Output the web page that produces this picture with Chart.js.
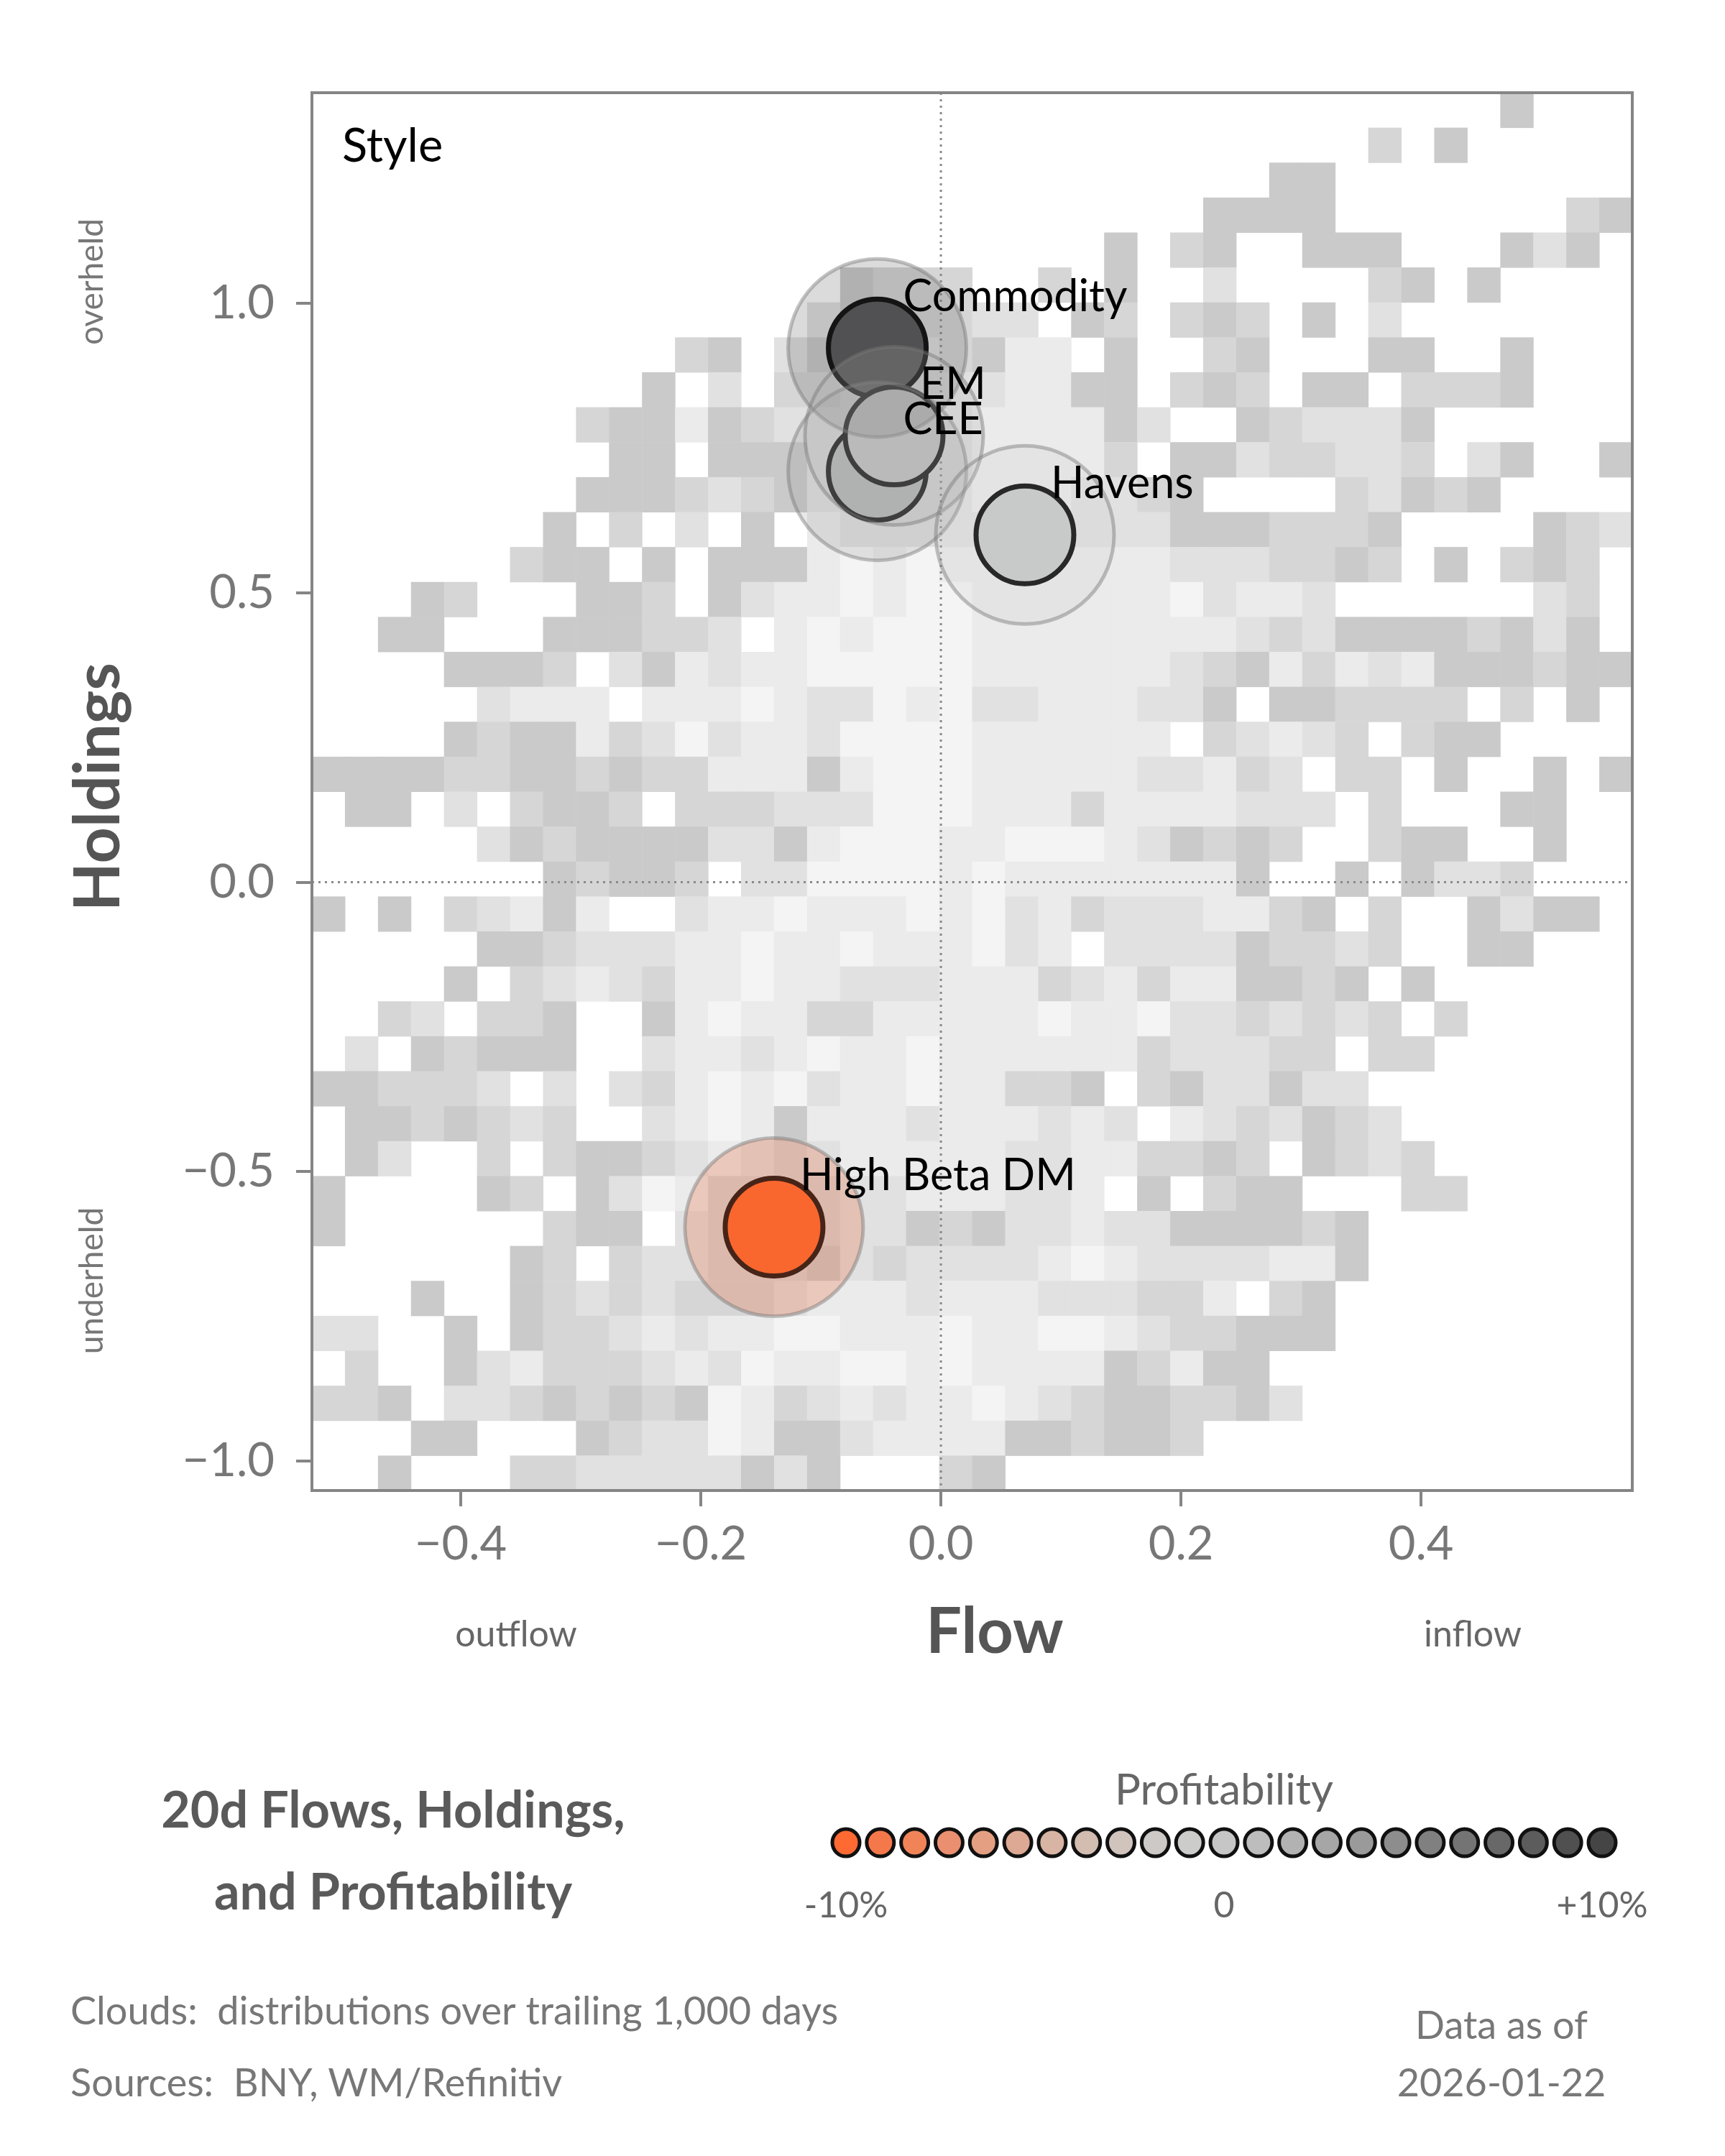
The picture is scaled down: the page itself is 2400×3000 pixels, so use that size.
<!DOCTYPE html>
<html>
<head>
<meta charset="utf-8">
<style>
  html, body { margin: 0; padding: 0; background: #fff; }
  #wrap { width: 2400px; height: 3000px; }
</style>
<script src="https://cdn.jsdelivr.net/npm/chart.js@4.4.1/dist/chart.umd.min.js"></script>
</head>
<body>
<div id="wrap"><canvas id="chart" width="2400" height="3000"></canvas></div>
<script>
// axis ranges and ticks
const xRange = [-0.524, 0.576];
const yRange = [-1.051, 1.364];
const xTicks = [-0.4, -0.2, 0.0, 0.2, 0.4];
const yTicks = [-1.0, -0.5, 0.0, 0.5, 1.0];

// style bubbles
const names = ['Commodity', 'CEE', 'EM', 'Havens', 'High Beta DM'];
const flows = [-0.053, -0.053, -0.039, 0.07, -0.139];
const holdings = [0.923, 0.71, 0.771, 0.60, -0.596];
const coreColors = ['#4f4f51', '#bcbebd', '#c9cbca', '#c9cbca', '#ff6121'];
const haloColors = ['rgba(90,90,92,0.22)', 'rgba(150,150,150,0.22)', 'rgba(170,170,170,0.22)', 'rgba(200,200,200,0.2)', 'rgba(235,120,80,0.3)'];

// cloud: 40 rows (top to bottom) x 40 columns, shade level per cell ('.' = empty)
const cloudRows = [
  '....................' + '................1...',
  '....................' + '............2.1.....',
  '....................' + '.........11.........',
  '....................' + '.......1111.......21',
  '....................' + '....1.21..111...131.',
  '................1222' + '..2.1..3....21.1....',
  '...............31122' + '33.12.212.1.3.......',
  '...........21.311332' + '144.1..21...11..1...',
  '..........1.3.223333' + '34411.212.11.2221...',
  '........211412333333' + '444413..123331......',
  '.........11.11133333' + '44442.11322332.31..1',
  '........111232133333' + '4443321....23121....',
  '.......1.2.3.1.43333' + '3333331112221....123',
  '......211.1.11145454' + '4444443332212.1.212.',
  '...12...112.13445455' + '44444453443......32.',
  '..11...111223.454555' + '4444444432311112131.',
  '....1112.31434455555' + '44444432142434111211',
  '.....3444.4445433545' + '33444331.112222.2.1.',
  '....1211423534435555' + '444444.23432.211....',
  '11112211212244414555' + '4444433423.22.1..1.1',
  '.11.3.2112.222333555' + '44424444333.2...11..',
  '.....312111133145554' + '4555431212..211..1..',
  '.......12112.3355554' + '544444441..1.1332...',
  '1.1.23414..344544454' + '53423334421.2..1311.',
  '.....112333445445444' + '534.333312232..11...',
  '....1.23432445443334' + '442342441121.1......',
  '..23.221..1454422444' + '4454453323232.2.....',
  '.3.12111..3443454454' + '44444233322.22......',
  '112223.3.32454534454' + '4221.2133133........',
  '.1121232..3454144434' + '44343.4323123.......',
  '.13..2.2112343234444' + '433442212.1232......',
  '1....12.135422223344' + '4334.1.211...22.....',
  '1......211.322223312' + '133433111121........',
  '......12.23322213233' + '334543333441........',
  '...1..12323222344434' + '44333224.21.........',
  '33..1.12234344554445' + '44554322111.........',
  '.2..1342223435445545' + '444412411...........',
  '221.3321212154234344' + '5432112213..........',
  '...11...123354113444' + '4112112.............',
  '..1...2233333131...2' + '1...................'
];
const shadeColors = { '1': '#cacaca', '2': '#d6d6d6', '3': '#e1e1e1', '4': '#ebebeb', '5': '#f4f4f4' };

// profitability legend
const profitColors = ['#ff6a33', '#f5784a', '#f08458', '#ea9070', '#e49f82', '#dea994', '#d8b4a4', '#d3bcb0',
  '#d0c4bd', '#cdc9c6', '#cccccb', '#c6c6c6', '#bdbdbd', '#b2b2b2', '#a6a6a6', '#9a9a9a', '#8d8d8d',
  '#808080', '#747474', '#686868', '#5c5c5c', '#505050', '#454545'];
const profitLabels = ['-10%', '0', '+10%'];

const FONT = 'Lato, "Open Sans", sans-serif';

function fmt(v) {
  const s = Math.abs(v).toFixed(1);
  return v < -1e-9 ? '\u2212' + s : s;
}

const cloudPlugin = {
  id: 'cloud',
  beforeDatasetsDraw(chart) {
    const { ctx, scales: { x, y } } = chart;
    const nCols = cloudRows[0].length, nRows = cloudRows.length;
    const dx = (xRange[1] - xRange[0]) / nCols;
    const dy = (yRange[1] - yRange[0]) / nRows;
    ctx.save();
    cloudRows.forEach((row, r) => {
      for (let c = 0; c < nCols; c++) {
        const ch = row[c];
        if (!shadeColors[ch]) continue;
        const x0 = x.getPixelForValue(xRange[0] + c * dx);
        const x1 = x.getPixelForValue(xRange[0] + (c + 1) * dx);
        const y0 = y.getPixelForValue(yRange[1] - r * dy);
        const y1 = y.getPixelForValue(yRange[1] - (r + 1) * dy);
        ctx.fillStyle = shadeColors[ch];
        ctx.fillRect(x0, y0, x1 - x0 + 0.5, y1 - y0 + 0.5);
      }
    });
    // dotted zero lines
    ctx.strokeStyle = '#8a8a8a';
    ctx.lineWidth = 3;
    ctx.setLineDash([3, 6]);
    const a = chart.chartArea;
    const zx = x.getPixelForValue(0), zy = y.getPixelForValue(0);
    ctx.beginPath();
    ctx.moveTo(zx, a.top); ctx.lineTo(zx, a.bottom);
    ctx.moveTo(a.left, zy); ctx.lineTo(a.right, zy);
    ctx.stroke();
    ctx.restore();
  },
  afterDraw(chart) {
    const { ctx, scales: { x, y } } = chart;
    const a = chart.chartArea;
    ctx.save();
    // frame
    ctx.strokeStyle = '#858585';
    ctx.lineWidth = 4;
    ctx.strokeRect(a.left, a.top, a.right - a.left, a.bottom - a.top);

    // bubble labels
    ctx.fillStyle = '#000';
    ctx.font = '61px ' + FONT;
    ctx.textBaseline = 'middle';
    ctx.textAlign = 'left';
    names.forEach((n, i) => {
      ctx.fillText(n, x.getPixelForValue(flows[i]) + 36, y.getPixelForValue(holdings[i]) - 71);
    });
    ctx.font = '65px ' + FONT;
    ctx.fillText('Style', a.left + 42, a.top + 75);

    // axis titles
    ctx.fillStyle = '#555';
    ctx.font = 'bold 88px ' + FONT;
    ctx.textAlign = 'center';
    ctx.fillText('Flow', 1384, 2272);
    ctx.save();
    ctx.translate(138, 1095);
    ctx.rotate(-Math.PI / 2);
    ctx.fillText('Holdings', 0, 0);
    ctx.font = '46px ' + FONT;
    ctx.fillStyle = '#777';
    ctx.fillText('overheld', 1095 - 392, -10);
    ctx.fillText('underheld', 1095 - 1782, -10);
    ctx.restore();
    ctx.font = '50px ' + FONT;
    ctx.fillStyle = '#666';
    ctx.fillText('outflow', 718, 2275);
    ctx.fillText('inflow', 2049, 2275);

    // title block
    ctx.fillStyle = '#5a5a5a';
    ctx.font = 'bold 70px ' + FONT;
    ctx.fillText('20d Flows, Holdings,', 547, 2520);
    ctx.fillText('and Profitability', 547, 2634);

    // profitability legend
    ctx.font = '60px ' + FONT;
    ctx.fillStyle = '#666';
    ctx.fillText('Profitability', 1703, 2492);
    const lx0 = 1177, lx1 = 2229, ly = 2564;
    const step = (lx1 - lx0) / (profitColors.length - 1);
    profitColors.forEach((col, i) => {
      ctx.beginPath();
      ctx.arc(lx0 + i * step, ly, 19, 0, Math.PI * 2);
      ctx.fillStyle = col;
      ctx.fill();
      ctx.lineWidth = 5;
      ctx.strokeStyle = '#111';
      ctx.stroke();
    });
    ctx.font = '50px ' + FONT;
    ctx.fillStyle = '#666';
    [lx0, (lx0 + lx1) / 2, lx1].forEach((px, i) => ctx.fillText(profitLabels[i], px, 2652));

    // footnotes
    ctx.font = '54px ' + FONT;
    ctx.fillStyle = '#777';
    ctx.textAlign = 'left';
    ctx.fillText('Clouds:  distributions over trailing 1,000 days', 98, 2800);
    ctx.fillText('Sources:  BNY, WM/Refinitiv', 98, 2900);
    ctx.textAlign = 'center';
    ctx.fillText('Data as of', 2089, 2820);
    ctx.fillText('2026-01-22', 2089, 2900);
    ctx.restore();
  }
};

const points = flows.map((f, i) => ({ x: f, y: holdings[i] }));

new Chart(document.getElementById('chart'), {
  type: 'scatter',
  data: {
    datasets: [
      {
        label: 'halo',
        data: points,
        pointRadius: 124,
        pointBackgroundColor: haloColors,
        pointBorderColor: 'rgba(120,120,120,0.45)',
        pointBorderWidth: 5
      },
      {
        label: 'style',
        data: points,
        pointRadius: 68,
        pointBackgroundColor: coreColors,
        pointBorderColor: '#000',
        pointBorderWidth: 7
      }
    ]
  },
  options: {
    responsive: false,
    animation: false,
    devicePixelRatio: 1,
    layout: { padding: { top: 88, right: 65, bottom: 0, left: 0 } },
    plugins: { legend: { display: false }, tooltip: { enabled: false } },
    scales: {
      x: {
        type: 'linear',
        min: xRange[0],
        max: xRange[1],
        afterBuildTicks: s => { s.ticks = xTicks.map(v => ({ value: v })); },
        afterFit: s => { s.height = 3000 - 2074; },
        ticks: { callback: v => fmt(v), color: '#777', font: { size: 65, family: FONT }, padding: 14, maxRotation: 0 },
        grid: { drawOnChartArea: false, drawTicks: true, tickLength: 22, color: '#858585', lineWidth: 4 },
        border: { display: false }
      },
      y: {
        type: 'linear',
        min: yRange[0],
        max: yRange[1],
        afterBuildTicks: s => { s.ticks = yTicks.map(v => ({ value: v })); },
        afterFit: s => { s.width = 434; },
        ticks: { callback: v => fmt(v), color: '#777', font: { size: 65, family: FONT }, padding: 30 },
        grid: { drawOnChartArea: false, drawTicks: true, tickLength: 22, color: '#858585', lineWidth: 4 },
        border: { display: false }
      }
    }
  },
  plugins: [cloudPlugin]
});
</script>
</body>
</html>
